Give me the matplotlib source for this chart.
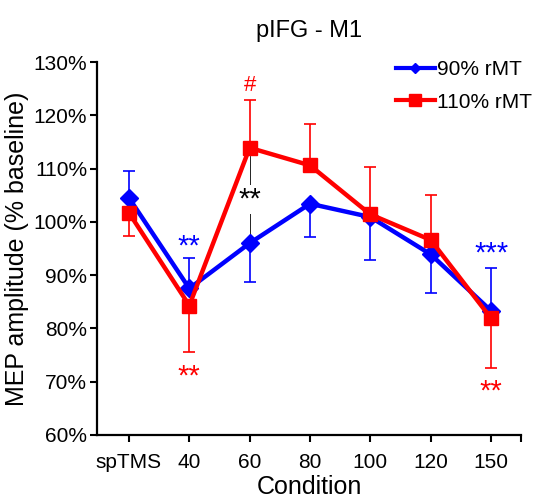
import matplotlib.pyplot as plt
from matplotlib.lines import Line2D

plt.rcParams['font.family'] = ['Liberation Sans', 'DejaVu Sans']

conditions = ['spTMS', '40', '60', '80', '100', '120', '150']
mep_90 = [104.5, 87.5, 96.0, 103.4, 100.9, 93.9, 83.3]
err_90 = [5.1, 5.8, 7.3, 6.2, 8.1, 7.3, 8.1]
dir_90 = [1, 1, -1, -1, -1, -1, 1]   # error bar drawn up (1) or down (-1)
mep_110 = [101.7, 84.3, 113.9, 110.6, 101.4, 96.6, 81.9]
err_110 = [4.4, 8.8, 8.9, 7.8, 8.9, 8.5, 9.3]
dir_110 = [-1, -1, 1, 1, 1, 1, -1]

# significance marks: (x index, y value, text, colour)
marks = [(1, 95.3, '**', 'blue'), (1, 71.0, '**', 'red'),
         (2, 125.5, '#', 'red'), (6, 94.0, '***', 'blue'),
         (6, 68.2, '**', 'red')]

fig = plt.figure(figsize=(5.51, 5.0), dpi=100)
ax = fig.add_axes([0.176, 0.13, 0.77, 0.746])

x = list(range(len(conditions)))

def draw(vals, errs, dirs, color, marker, ms):
    lo = [e if d < 0 else 0 for e, d in zip(errs, dirs)]
    hi = [e if d > 0 else 0 for e, d in zip(errs, dirs)]
    ax.errorbar(x, vals, yerr=[lo, hi], fmt='none', ecolor=color,
                elinewidth=1.2, capsize=4, capthick=1.2, zorder=2)
    ax.plot(x, vals, color=color, lw=3.2, marker=marker, ms=ms,
            mec=color, mfc=color, zorder=3)

draw(mep_90, err_90, dir_90, 'blue', 'D', 9)
draw(mep_110, err_110, dir_110, 'red', 's', 10)

# difference marker between the two curves at 60
ax.plot([2, 2], [mep_90[2] + 1.5, mep_110[2] - 1.5], color='black', lw=0.6, zorder=1)
ax.text(2, 104.2, '**', ha='center', va='center', fontsize=21, color='black',
        bbox=dict(facecolor='white', edgecolor='none', pad=0.5), zorder=1.5)

for i, yv, t, c in marks:
    ax.text(i, yv, t, ha='center', va='center', fontsize=21 if '*' in t else 16,
            color=c)

ax.set_xlim(-0.53, 6.5)
ax.set_ylim(60, 130)
ax.set_xticks(x + [6.5])
ax.set_xticklabels(conditions + [''])
yt = list(range(60, 131, 10))
ax.set_yticks(yt)
ax.set_yticklabels(['%d%%' % v for v in yt])
ax.tick_params(axis='both', labelsize=15, width=1.5, length=5, direction='out')
ax.tick_params(axis='x', pad=8)
ax.tick_params(axis='y', pad=2)
for s in ['top', 'right']:
    ax.spines[s].set_visible(False)
for s in ['left', 'bottom']:
    ax.spines[s].set_linewidth(1.6)

ax.set_xlabel('Condition', fontsize=18, labelpad=2)
ax.set_ylabel('MEP amplitude (% baseline)', fontsize=18, labelpad=3)
ax.set_title('pIFG - M1', fontsize=17, pad=18)

handles = [Line2D([], [], color='blue', lw=3, marker='D', ms=5),
           Line2D([], [], color='red', lw=3, marker='s', ms=9)]
ax.legend(handles, ['90% rMT', '110% rMT'], loc='upper right',
          bbox_to_anchor=(1.07, 1.055), frameon=False, fontsize=15,
          handlelength=1.9, handletextpad=0.1, labelspacing=0.65)

fig.savefig('out.png', dpi=100)
